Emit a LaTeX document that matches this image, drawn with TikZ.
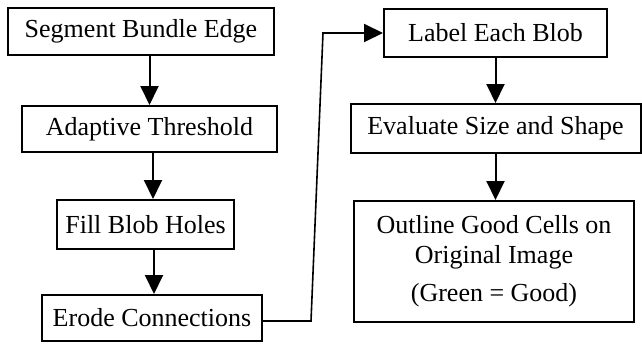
\documentclass[tikz,border=0pt]{standalone}
\usepackage{fontspec}
\setmainfont{Liberation Serif}
\usetikzlibrary{arrows.meta}
\begin{document}
\begin{tikzpicture}[x=1pt,y=-1pt,
  box/.style={draw,line width=2pt,inner sep=0pt,font=\fontsize{26}{30}\selectfont,align=center},
  arr/.style={line width=2pt,-{Triangle[length=19pt,width=18pt]}},
  conn/.style={line width=1.6pt,line join=miter}]
\useasboundingbox (0,0) rectangle (642,345);
\node[box,minimum width=266pt,minimum height=47pt] (b1) at (141,31.5) {Segment Bundle Edge};
\node[box,minimum width=255pt,minimum height=46pt] (b2) at (149.5,129) {Adaptive Threshold};
\node[box,minimum width=177pt,minimum height=49pt] (b3) at (145.5,224.5) {Fill Blob Holes};
\node[box,minimum width=220pt,minimum height=46pt] (b4) at (152,318) {Erode Connections};
\node[box,minimum width=223pt,minimum height=48pt] (b5) at (495.5,33) {Label Each Blob};
\node[box,minimum width=290pt,minimum height=49pt] (b6) at (495.5,128.5) {Evaluate Size and Shape};
\node[box,minimum width=280pt,minimum height=121pt] (b7) at (494,261.5) {\raisebox{3pt}{\begin{tabular}{@{}c@{}}Outline Good Cells on\\Original Image\\[8pt](Green = Good)\end{tabular}}};
\draw[arr] (b1.south -| b2.north) -- (b2.north);
\draw[arr] ([xshift=3.5pt]b2.south) -- ([xshift=3.5pt]b2.south |- b3.north);
\draw[arr] ([xshift=8.5pt]b3.south) -- ([xshift=8.5pt]b3.south |- b4.north);
\draw[arr] (b5.south) -- (b5.south |- b6.north);
\draw[arr] (b6.south) -- (b6.south |- b7.north);
\coordinate (c1) at (311,321);
\coordinate (c2) at (323,33);
\draw[conn] ([yshift=-3pt]b4.east) -- (c1) -- (c2) -- ([xshift=-18pt]b5.west);
\draw[arr] ([xshift=-19.5pt]b5.west) -- (b5.west);
\end{tikzpicture}
\end{document}
